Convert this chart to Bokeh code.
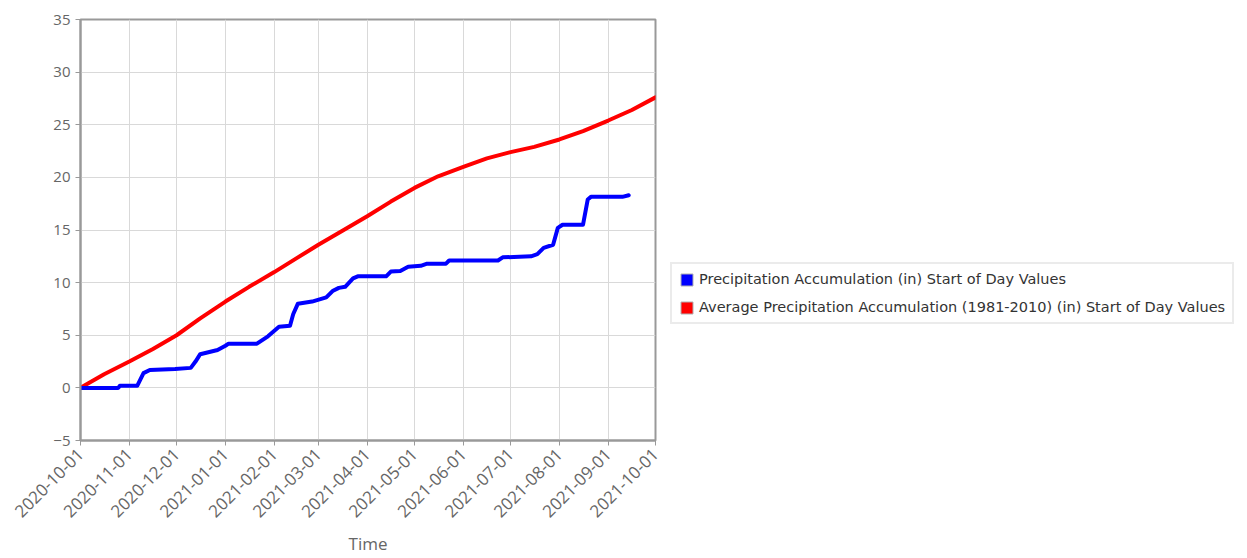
import pandas as pd
from bokeh.plotting import figure
from bokeh.layouts import row
from bokeh.models import (Range1d, FixedTicker, DatetimeTickFormatter, Legend, LegendItem)
from bokeh.embed import file_html
from bokeh.resources import INLINE
from math import pi

# ---- data ----
precip_dates = ["2020-10-01", "2020-10-25", "2020-10-26", "2020-11-06", "2020-11-10", "2020-11-14",
                "2020-11-30", "2020-12-10", "2020-12-13", "2020-12-16", "2020-12-27", "2021-01-01",
                "2021-01-03", "2021-01-21", "2021-01-28", "2021-02-04", "2021-02-11", "2021-02-13",
                "2021-02-16", "2021-02-25", "2021-03-06", "2021-03-10", "2021-03-14", "2021-03-18",
                "2021-03-23", "2021-03-26", "2021-04-13", "2021-04-16", "2021-04-22", "2021-04-27",
                "2021-05-05", "2021-05-09", "2021-05-21", "2021-05-23", "2021-06-23", "2021-06-26",
                "2021-07-14", "2021-07-18", "2021-07-22", "2021-07-28", "2021-07-31", "2021-08-03",
                "2021-08-16", "2021-08-19", "2021-08-21", "2021-09-10", "2021-09-14"]
precip_values = [0.0, 0.0, 0.2, 0.2, 1.4, 1.7,
                 1.8, 1.9, 2.5, 3.2, 3.6, 4.0,
                 4.2, 4.2, 4.9, 5.8, 5.9, 7.0,
                 8.0, 8.2, 8.6, 9.2, 9.5, 9.6,
                 10.4, 10.6, 10.6, 11.05, 11.1, 11.5,
                 11.6, 11.8, 11.8, 12.1, 12.1, 12.4,
                 12.5, 12.7, 13.3, 13.6, 15.2, 15.5,
                 15.5, 17.9, 18.15, 18.15, 18.3]

avg_dates = ["2020-10-01", "2020-10-16", "2020-11-01", "2020-11-16", "2020-12-01", "2020-12-16",
             "2021-01-01", "2021-01-16", "2021-02-01", "2021-02-15", "2021-03-01", "2021-03-16",
             "2021-04-01", "2021-04-16", "2021-05-01", "2021-05-16", "2021-06-01", "2021-06-16",
             "2021-07-01", "2021-07-16", "2021-08-01", "2021-08-16", "2021-09-01", "2021-09-16",
             "2021-10-01"]
avg_values = [0.0, 1.3, 2.5, 3.7, 5.0, 6.6,
              8.2, 9.6, 11.0, 12.3, 13.6, 14.9,
              16.3, 17.7, 19.0, 20.1, 21.0, 21.8,
              22.4, 22.9, 23.6, 24.4, 25.4, 26.4,
              27.6]

tick_labels = ["2020-10-01", "2020-11-01", "2020-12-01", "2021-01-01", "2021-02-01", "2021-03-01",
               "2021-04-01", "2021-05-01", "2021-06-01", "2021-07-01", "2021-08-01", "2021-09-01",
               "2021-10-01"]
y_ticks = [-5, 0, 5, 10, 15, 20, 25, 30, 35]

series_names = ["Precipitation Accumulation (in) Start of Day Values",
                "Average Precipitation Accumulation (1981-2010) (in) Start of Day Values"]
series_colors = ["#0000ff", "#ff0000"]

# ---- main chart ----
FONT = "Open Sans"
GRAY_TXT = "#666666"
MAIN_W = 668
H = 557

xd_p = pd.to_datetime(precip_dates)
xd_a = pd.to_datetime(avg_dates)
ticks_dt = pd.to_datetime(tick_labels)
tick_ms = [int(t.value // 10**6) for t in ticks_dt]

p = figure(width=MAIN_W, height=H, x_axis_type="datetime",
           output_backend="svg", toolbar_location=None,
           x_range=Range1d(ticks_dt[0], ticks_dt[-1]),
           y_range=Range1d(y_ticks[0], y_ticks[-1]),
           min_border_left=80, min_border_top=19, min_border_right=MAIN_W - 655,
           min_border_bottom=H - 442)

p.background_fill_color = "white"
p.border_fill_color = "white"
p.outline_line_color = "#999999"
p.outline_line_width = 2

p.xaxis.ticker = FixedTicker(ticks=tick_ms)
p.xaxis.formatter = DatetimeTickFormatter(milliseconds="%Y-%m-%d", seconds="%Y-%m-%d", minsec="%Y-%m-%d",
                                          minutes="%Y-%m-%d", hourmin="%Y-%m-%d", hours="%Y-%m-%d",
                                          days="%Y-%m-%d", months="%Y-%m-%d", years="%Y-%m-%d")
p.xaxis.major_label_orientation = pi / 4
p.yaxis.ticker = FixedTicker(ticks=y_ticks)
p.xaxis.minor_tick_line_color = None
p.yaxis.minor_tick_line_color = None

for ax in (p.xaxis, p.yaxis):
    ax.axis_line_color = "#999999"
    ax.axis_line_width = 2
    ax.major_tick_line_color = "#999999"
    ax.major_tick_line_width = 1
    ax.major_tick_in = 0
    ax.major_tick_out = 5
    ax.major_label_text_font = FONT
    ax.major_label_text_font_size = "15px"
    ax.major_label_text_color = GRAY_TXT
p.xaxis.major_label_text_font_size = "17px"
p.xaxis.major_label_standoff = 6

p.xaxis.axis_label = "Time"
p.xaxis.axis_label_text_font = FONT
p.xaxis.axis_label_text_font_size = "17px"
p.xaxis.axis_label_text_font_style = "normal"
p.xaxis.axis_label_text_color = GRAY_TXT
p.xaxis.axis_label_standoff = 6

p.xgrid.ticker = FixedTicker(ticks=tick_ms)
p.ygrid.ticker = FixedTicker(ticks=y_ticks)
p.grid.grid_line_color = "#d9d9d9"
p.grid.grid_line_width = 1

p.line(xd_a, avg_values, line_color=series_colors[1], line_width=4, line_join="round", line_cap="round")
p.line(xd_p, precip_values, line_color=series_colors[0], line_width=4, line_join="round", line_cap="round")

# ---- legend panel ----
lg = figure(width=1240 - MAIN_W, height=H, output_backend="svg", toolbar_location=None,
            x_range=Range1d(1, 2), y_range=Range1d(1, 2),
            x_axis_location=None, y_axis_location=None,
            min_border_left=0, min_border_right=0, min_border_top=0, min_border_bottom=0)
lg.outline_line_color = None
lg.grid.visible = False
lg.background_fill_color = "white"
lg.border_fill_color = "white"

# zero-size swatch renderers placed outside the visible range (only their legend glyph shows)
swatches = [lg.quad(left=[precip_values[0]], right=[precip_values[0]],
                    top=[precip_values[0]], bottom=[precip_values[0]],
                    fill_color=c, line_color="#b0b0b0", line_width=1)
            for c in series_colors]

legend = Legend(items=[LegendItem(label=series_names[i], renderers=[swatches[i]]) for i in range(2)],
                location=(670 - MAIN_W, 116), orientation="vertical")
legend.label_text_font = "DejaVu Sans"
legend.label_text_font_size = "14.5px"
legend.label_text_color = "#333333"
legend.glyph_width = 15
legend.glyph_height = 15
legend.label_standoff = 5
legend.spacing = 12
legend.padding = 7
legend.margin = 0
legend.border_line_color = "#d8d8d8"
legend.border_line_width = 2
legend.background_fill_alpha = 1.0
lg.add_layout(legend, "center")

layout = row(p, lg)
open("out.html", "w").write(file_html(layout, INLINE))
